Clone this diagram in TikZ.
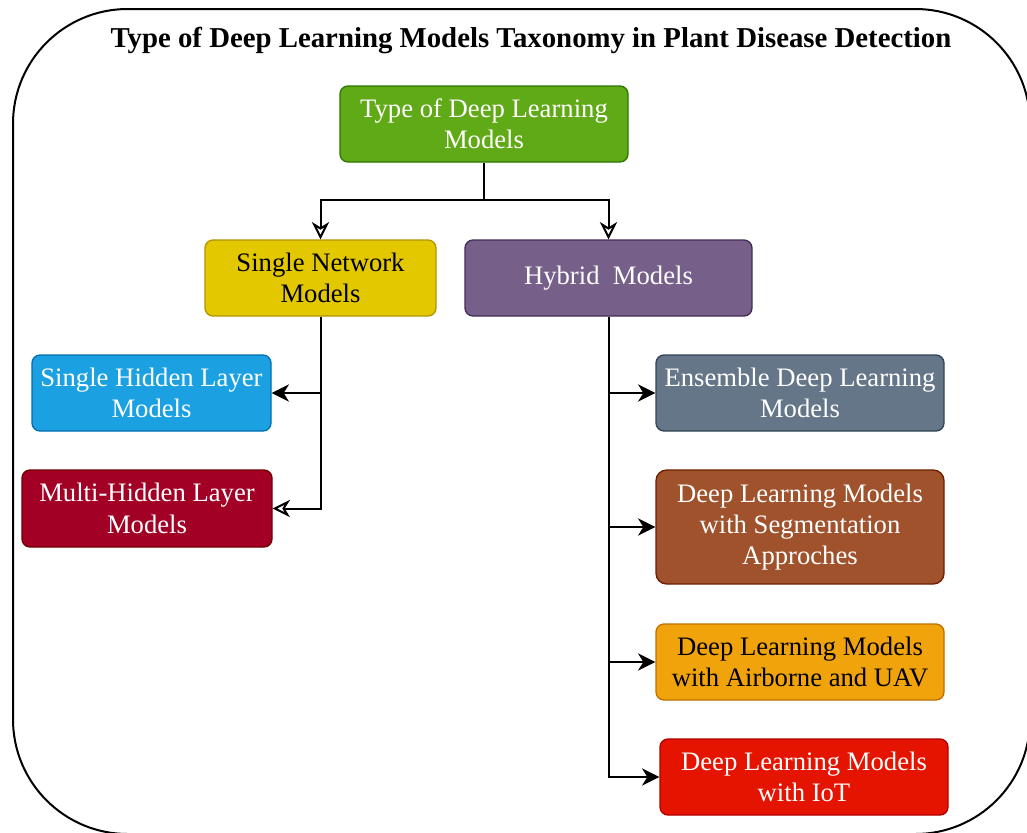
\documentclass[tikz,border=0pt]{standalone}
\usepackage{fontspec}
\setmainfont{Liberation Serif}
\usetikzlibrary{arrows.meta}
\definecolor{cGreen}{HTML}{60A917}\definecolor{sGreen}{HTML}{2D7600}
\definecolor{cYellow}{HTML}{E3C800}\definecolor{sYellow}{HTML}{B09500}
\definecolor{cPurple}{HTML}{76608A}\definecolor{sPurple}{HTML}{432D57}
\definecolor{cBlue}{HTML}{1BA1E2}\definecolor{sBlue}{HTML}{006EAF}
\definecolor{cCrimson}{HTML}{A20025}\definecolor{sCrimson}{HTML}{6F0000}
\definecolor{cSlate}{HTML}{647687}\definecolor{sSlate}{HTML}{314354}
\definecolor{cBrown}{HTML}{A0522D}\definecolor{sBrown}{HTML}{6D1F00}
\definecolor{cAmber}{HTML}{F0A30A}\definecolor{sAmber}{HTML}{BD7000}
\definecolor{cRed}{HTML}{E51400}\definecolor{sRed}{HTML}{B20000}
\tikzset{
  box/.style={draw, line width=1pt, rounded corners=6pt, align=center,
    minimum width=216pt, minimum height=57pt, inner sep=2pt,
    font=\fontsize{20}{23.5}\selectfont},
  wire/.style={line width=1.5pt, black},
  solidtip/.style={wire, -{Stealth[length=13pt, width=13pt, inset=4pt]}},
  hollowtip/.style={wire, -{Stealth[open, length=13pt, width=13pt, inset=4pt, fill=white]}},
}
\begin{document}
\begin{tikzpicture}[x=0.75pt, y=-0.75pt]
\useasboundingbox (0,0) rectangle (1027,832);
\clip (0,0) rectangle (1027,832);
% outer frame
\draw[line width=1.5pt, rounded corners=86pt] (13,9) rectangle (1030,834);
\node[font=\bfseries\fontsize{21.6}{26}\selectfont] (title) at (531,41)
  {Type of Deep Learning Models Taxonomy in Plant Disease Detection};

% boxes
\node[box, fill=cGreen, draw=sGreen, text=white] (root) at (484,124)
  {Type of Deep Learning\\Models};
\node[box, fill=cYellow, draw=sYellow, text=black, minimum width=173.25pt] (snm) at (320.5,278)
  {Single Network\\Models};
\node[box, fill=cPurple, draw=sPurple, text=white, minimum width=215.25pt] (hyb) at (608.5,278)
  {Hybrid\ \ Models};
\node[box, fill=cBlue, draw=sBlue, text=white, minimum width=179.25pt] (shl) at (151.5,393)
  {Single Hidden Layer\\Models};
\node[box, fill=cCrimson, draw=sCrimson, text=white, minimum width=187.5pt, minimum height=57.75pt] (mhl) at (147,508.5)
  {Multi-Hidden Layer\\Models};
\node[box, fill=cSlate, draw=sSlate, text=white] (ens) at (800,393)
  {Ensemble Deep Learning\\Models};
\node[box, fill=cBrown, draw=sBrown, text=white, minimum height=85.5pt, rounded corners=8pt] (seg) at (800,527)
  {Deep Learning Models\\with Segmentation\\Approches};
\node[box, fill=cAmber, draw=sAmber, text=black] (uav) at (800,662)
  {Deep Learning Models\\with Airborne and UAV};
\node[box, fill=cRed, draw=sRed, text=white] (iot) at (804,777)
  {Deep Learning Models\\with IoT};

% connectors
\coordinate (split) at (484,200);
\draw[wire] (root.south) -- (split);
\draw[hollowtip] (split) -| (snm.north);
\draw[hollowtip] (split) -| (hyb.north);
\draw[solidtip] (snm.south) |- (shl.east);
\draw[hollowtip] (snm.south) |- (mhl.east);
\draw[solidtip] (hyb.south) |- (ens.west);
\draw[solidtip] (hyb.south) |- (seg.west);
\draw[solidtip] (hyb.south) |- (uav.west);
\draw[solidtip] (hyb.south) |- (iot.west);
\end{tikzpicture}
\end{document}
